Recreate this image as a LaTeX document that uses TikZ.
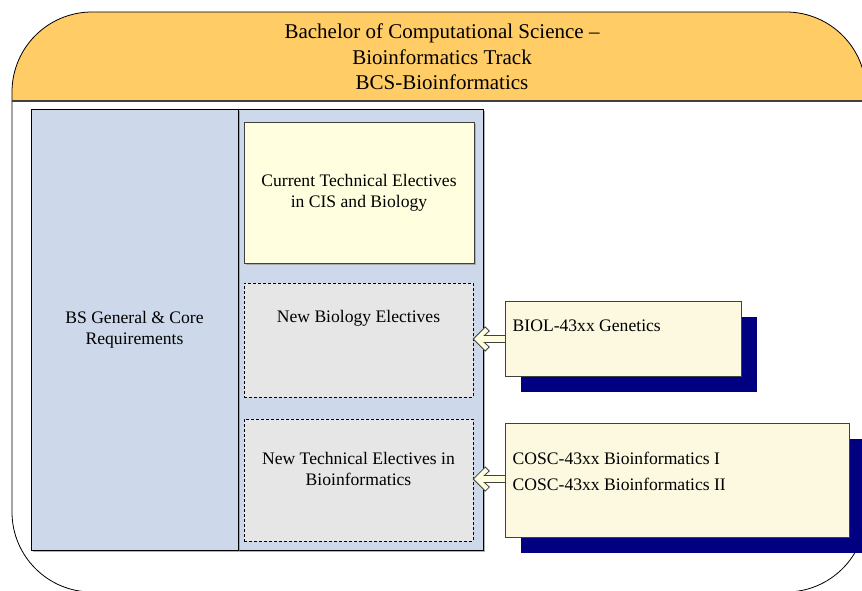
\documentclass[tikz,border=0pt]{standalone}
\usepackage{fontspec}
\setmainfont{Liberation Serif}
\usetikzlibrary{arrows.meta,shadows,calc}
\definecolor{hdrorange}{HTML}{FFCC66}
\definecolor{panelblue}{HTML}{CDD9EA}
\definecolor{paleyellow}{HTML}{FFFFE0}
\definecolor{cornsilkbox}{HTML}{FCF9E0}
\definecolor{boxgray}{HTML}{E6E6E6}
\definecolor{shadownavy}{HTML}{000080}
\definecolor{edgegray}{HTML}{404040}
\tikzset{
  bodyfont/.style={font=\fontsize{17.6}{21}\selectfont},
  titlefont/.style={font=\fontsize{21}{25.7}\selectfont},
  bluepanel/.style={draw=black, line width=0.8pt, fill=panelblue, inner sep=0pt,
    drop shadow={shadow xshift=2pt, shadow yshift=-2pt, fill=gray, opacity=0.6}},
  currbox/.style={draw=edgegray, line width=0.8pt, fill=paleyellow, inner sep=0pt,
    drop shadow={shadow xshift=1.5pt, shadow yshift=-1.5pt, fill=gray, opacity=0.5}},
  dashbox/.style={draw=black, line width=0.6pt, dash pattern=on 3pt off 2pt, fill=boxgray, inner sep=0pt},
  coursebox/.style={draw=edgegray, line width=0.8pt, fill=cornsilkbox, inner sep=0pt,
    drop shadow={shadow xshift=16pt, shadow yshift=-16pt, fill=shadownavy, opacity=1}},
  hollowarrow/.style={draw=edgegray, line width=0.8pt, fill=paleyellow, line join=miter},
}
\begin{document}
\begin{tikzpicture}[x=1pt, y=-1pt]
\useasboundingbox (0,0) rectangle (862,590);
\fill[white] (0,0) rectangle (862,590);
% header fill
\begin{scope}
  \clip (0,0) rectangle (870,101);
  \fill[hdrorange, rounded corners=80pt] (12,12) rectangle (866,592);
\end{scope}
% outer outline
\draw[black, line width=0.8pt, rounded corners=80pt] (12,12) rectangle (866,592);
\draw[edgegray, line width=1.8pt] (12,101) -- (866,101);
% title
\node[titlefont, align=center, inner sep=0pt] (title) at (442,57)
  {Bachelor of Computational Science --\\Bioinformatics Track\\BCS-Bioinformatics};
% panels
\node[bluepanel, minimum width=245pt, minimum height=441pt] (right) at (360.5,329.5) {};
\node[bluepanel, minimum width=207pt, minimum height=441pt, bodyfont, align=center] (core) at (134.5,329.5)
  {BS General \& Core\\Requirements};
\node[currbox, minimum width=230pt, minimum height=141pt, bodyfont, align=center] (current) at (359,193)
  {Current Technical Electives\\in CIS and Biology};
\node[dashbox, minimum width=229pt, minimum height=114pt] (newbio) at (358.5,340) {};
\node[bodyfont, inner sep=0pt] (newbiotext) at (358.5,318) {New Biology Electives};
\node[dashbox, minimum width=229pt, minimum height=122pt] (newtech) at (358.5,480) {};
\node[bodyfont, align=center, inner sep=0pt] (newtechtext) at (358.5,469)
  {New Technical Electives in\\Bioinformatics};
% arrow tips
\coordinate (tip1) at ($(newbio.east)+(0,-1)$);
\coordinate (tip2) at ($(newtech.east)+(0,-1)$);
% arrows (drawn below the course boxes)
\draw[hollowarrow] (tip1) -- ++(12,-12) -- ++(4,4) -- ++(-5,4.5) -- ($(tip1)+(34,-3.5)$)
  -- ($(tip1)+(34,3.5)$) -- ($(tip1)+(11,3.5)$) -- ++(5,4.5) -- ++(-4,4) -- cycle;
\draw[hollowarrow] (tip2) -- ++(12,-12) -- ++(4,4) -- ++(-5,4.5) -- ($(tip2)+(34,-3.5)$)
  -- ($(tip2)+(34,3.5)$) -- ($(tip2)+(11,3.5)$) -- ++(5,4.5) -- ++(-4,4) -- cycle;
% course boxes
\node[coursebox, minimum width=236pt, minimum height=75pt] (biol) at (623,338.5) {};
\node[bodyfont, anchor=west, inner sep=0pt] (bioltext) at (512.5,326) {BIOL-43xx Genetics};
\node[coursebox, minimum width=344pt, minimum height=114pt] (cosc) at (677,480) {};
\node[anchor=west, inner sep=0pt, align=left, font=\fontsize{17.6}{26}\selectfont] (cosctext) at (512.5,471)
  {COSC-43xx Bioinformatics I\\COSC-43xx Bioinformatics II};
\end{tikzpicture}
\end{document}
